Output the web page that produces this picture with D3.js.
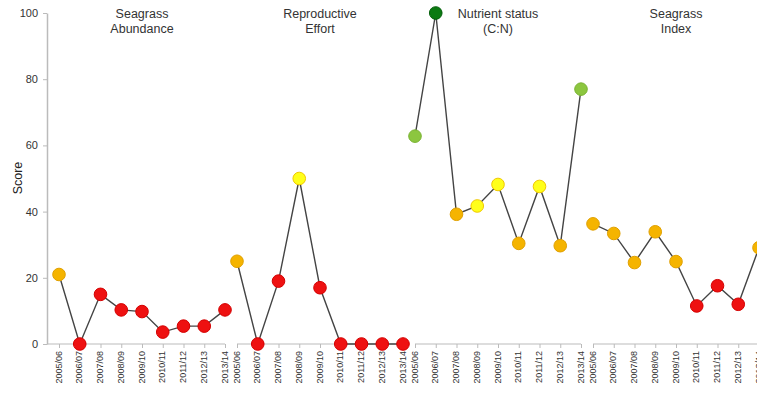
<!DOCTYPE html>
<html><head><meta charset="utf-8">
<script src="https://cdn.jsdelivr.net/npm/d3@7"></script>
<style>html,body{margin:0;padding:0;background:#fff;overflow:hidden}</style>
</head><body>
<svg id="c" width="757" height="396"></svg>
<script>
const years = ["2005/06","2006/07","2007/08","2008/09","2009/10","2010/11","2011/12","2012/13","2013/14"];
const panels = [["Seagrass","Abundance"],["Reproductive","Effort"],["Nutrient status","(C:N)"],["Seagrass","Index"]];
const abundance = [21, 0, 15, 10.3, 9.8, 3.6, 5.4, 5.4, 10.3];
const abundanceCls = ["o","r","r","r","r","r","r","r","r"];
const reproductive = [25, 0, 19, 50, 17, 0, 0, 0, 0];
const reproductiveCls = ["o","r","r","y","r","r","r","r","r"];
const nutrient = [62.8, 100, 39.2, 41.7, 48.2, 30.4, 47.6, 29.7, 77];
const nutrientCls = ["lg","dg","o","y","y","o","y","o","lg"];
const index = [36.3, 33.4, 24.6, 33.9, 24.9, 11.5, 17.6, 12, 29.1];
const indexCls = ["o","o","o","o","o","r","r","r","o"];
const yTicks = [0,20,40,60,80,100];

const series = [abundance, reproductive, nutrient, index];
const classes = [abundanceCls, reproductiveCls, nutrientCls, indexCls];
const fills = {r:"#ee1111", o:"#f5b400", y:"#ffff1a", lg:"#8cc63f", dg:"#0b7a12"};
const strokes = {r:"#d40000", o:"#e0a000", y:"#f0c800", lg:"#7ab332", dg:"#06600c"};

const svg = d3.select("#c");
const y = d3.scaleLinear().domain([0,100]).range([344,13]);
const panelX = d3.scaleLinear().domain([0,1]).range([59,237]);
const font = "Arial, 'Liberation Sans', sans-serif";

// y axis
const ya = svg.append("g").attr("transform","translate(47,0)")
  .call(d3.axisLeft(y).tickValues(yTicks).tickSize(4).tickSizeOuter(0));
ya.select(".domain").attr("stroke","#bbb").attr("stroke-width",1.5);
ya.selectAll(".tick line").attr("stroke","#bbb");
ya.selectAll(".tick text").attr("font-family",font).attr("font-size",11).attr("fill","#333").attr("dx",-2);

svg.append("text").attr("transform","translate(22,178) rotate(-90)")
  .attr("text-anchor","middle").attr("font-family",font).attr("font-size",12.5).attr("fill","#222").text("Score");

series.forEach((vals,p)=>{
  const x0 = panelX(p);
  const x = d3.scalePoint().domain(years).range([x0, x0+166]);
  const g = svg.append("g");
  const xa = g.append("g").attr("transform","translate(0,344)")
    .call(d3.axisBottom(x).tickSize(4).tickSizeOuter(0));
  xa.select(".domain").attr("stroke","#bbb").attr("d", `M${p===0?47:x0},0H${x0+166}`);
  xa.selectAll(".tick line").attr("stroke","#bbb");
  xa.selectAll(".tick text").attr("font-family",font).attr("font-size",9).attr("fill","#333")
    .attr("transform","rotate(-90)").attr("text-anchor","end").attr("x",-7).attr("y",-1).attr("dy","0.35em");

  const title = g.append("text").attr("x", x0+83).attr("y",18).attr("text-anchor","middle")
    .attr("font-family",font).attr("font-size",12.5).attr("fill","#333");
  panels[p].forEach((t,i)=>title.append("tspan").attr("x",x0+83).attr("dy", i? 15:0).text(t));

  const line = d3.line().x((d,i)=>x(years[i])).y(d=>y(d));
  g.append("path").datum(vals).attr("d",line).attr("fill","none").attr("stroke","#444").attr("stroke-width",1.4);
  g.selectAll("circle").data(vals).join("circle")
    .attr("cx",(d,i)=>x(years[i])).attr("cy",d=>y(d)).attr("r",6.3)
    .attr("fill",(d,i)=>fills[classes[p][i]]).attr("stroke",(d,i)=>strokes[classes[p][i]]).attr("stroke-width",1);
});
</script>
</body></html>
